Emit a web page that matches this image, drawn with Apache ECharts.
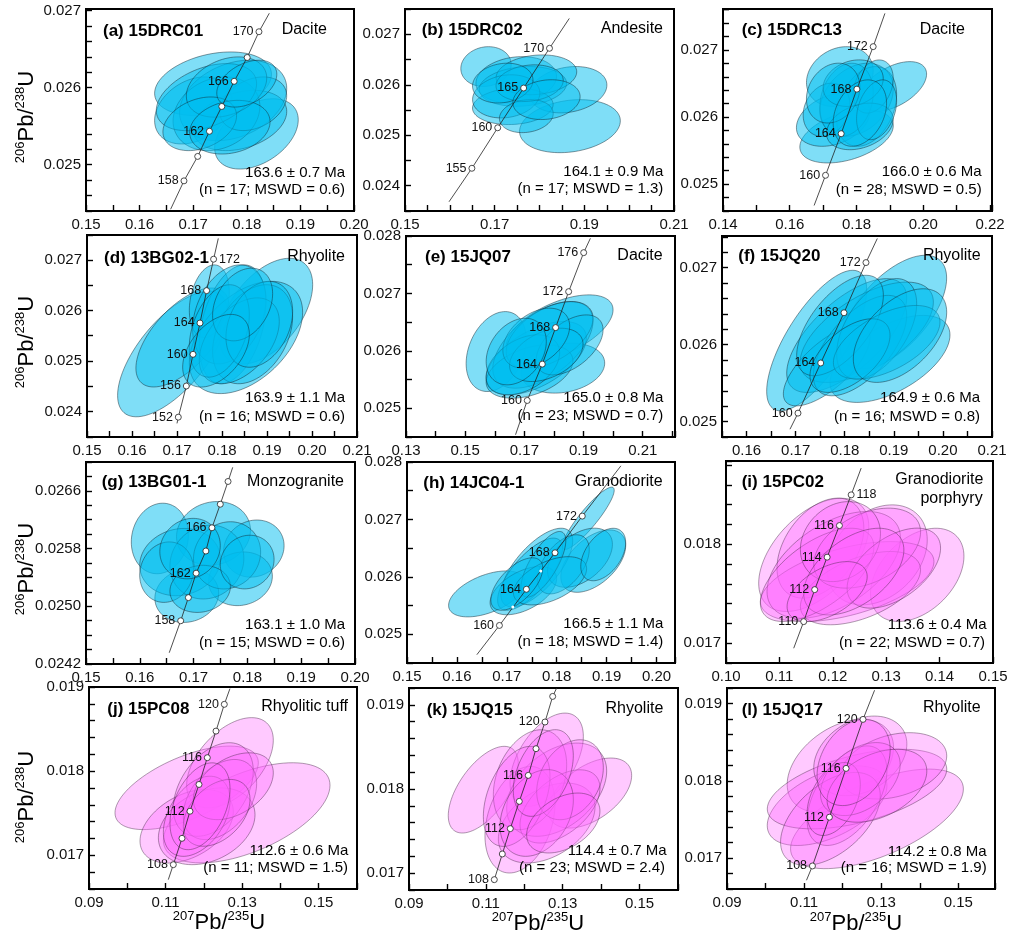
<!DOCTYPE html>
<html>
<head>
<meta charset="utf-8">
<title>U-Pb concordia diagrams</title>
<script src="https://cdn.jsdelivr.net/npm/echarts@6.0.0/dist/echarts.min.js"></script>
<style>
  html, body { margin: 0; padding: 0; background: #fff; }
  #chart { width: 1012px; height: 934px; }
</style>
</head>
<body>
<div id="chart"></div>
<script>
// axis: [min, max, tick step, first label, label step, decimals]
const xAxA = [0.15, 0.20, 0.005, 0.15, 0.01, 2];
const yAxA = [0.0244, 0.02702, 0.0002, 0.024, 0.001, 3];
const xAxB = [0.15, 0.21, 0.005, 0.15, 0.02, 2];
const yAxB = [0.0235, 0.0275, 0.0005, 0.024, 0.001, 3];
const xAxC = [0.14, 0.2206, 0.01, 0.14, 0.02, 2];
const yAxC = [0.0246, 0.02761, 0.0002, 0.024, 0.001, 3];
const xAxD = [0.15, 0.21, 0.005, 0.15, 0.01, 2];
const yAxD = [0.0235, 0.02749, 0.0005, 0.024, 0.001, 3];
const xAxE = [0.13, 0.2209, 0.01, 0.13, 0.02, 2];
const yAxE = [0.0245, 0.028, 0.0005, 0.024, 0.001, 3];
const xAxF = [0.155, 0.21, 0.005, 0.16, 0.01, 2];
const yAxF = [0.0248, 0.02741, 0.0002, 0.024, 0.001, 3];
const xAxG = [0.15, 0.20, 0.005, 0.15, 0.01, 2];
const yAxG = [0.0242, 0.027, 0.0002, 0.0242, 0.0008, 4];
const xAxH = [0.15, 0.2037, 0.005, 0.15, 0.01, 2];
const yAxH = [0.0245, 0.028, 0.0005, 0.024, 0.001, 3];
const xAxI = [0.10, 0.15, 0.01, 0.10, 0.01, 2];
const yAxI = [0.0168, 0.01884, 0.0002, 0.017, 0.001, 3];
const xAxJ = [0.09, 0.16, 0.01, 0.09, 0.02, 2];
const yAxJ = [0.0166, 0.019, 0.0002, 0.017, 0.001, 3];
const xAxK = [0.09, 0.16, 0.01, 0.09, 0.02, 2];
const yAxK = [0.0168, 0.0192, 0.0002, 0.017, 0.001, 3];
const xAxL = [0.09, 0.1595, 0.01, 0.09, 0.02, 2];
const yAxL = [0.0166, 0.0192, 0.0002, 0.017, 0.001, 3];

// concordia age marks: [207Pb/235U, 206Pb/238U, label]
const markA = [[0.16828, 0.024791, '158'], [0.17084, 0.025108, ''], [0.17303, 0.025434, '162'], [0.17534, 0.025756, ''], [0.17764, 0.026082, '166'], [0.18007, 0.026391, ''], [0.18227, 0.026725, '170']];
const markB = [[0.16492, 0.024346, '155'], [0.17068, 0.025148, '160'], [0.17646, 0.025935, '165'], [0.18223, 0.026722, '170']];
const markC = [[0.17072, 0.025132, '160'], [0.1754, 0.025752, '164'], [0.18011, 0.026416, '168'], [0.185, 0.027049, '172']];
const markD = [[0.17029, 0.023892, '152'], [0.17207, 0.024507, '156'], [0.17356, 0.025133, '160'], [0.17511, 0.025751, '164'], [0.17658, 0.026391, '168'], [0.17813, 0.027012, '172']];
const markE = [[0.17097, 0.025136, '160'], [0.17605, 0.025769, '164'], [0.18056, 0.026405, '168'], [0.18496, 0.027031, '172'], [0.19004, 0.02771, '176']];
const markF = [[0.17048, 0.02511, '160'], [0.17511, 0.025761, '164'], [0.17985, 0.026413, '168'], [0.18433, 0.027065, '172']];
const markG = [[0.1676, 0.024799, '158'], [0.16903, 0.02512, ''], [0.17047, 0.025459, '162'], [0.17228, 0.025766, ''], [0.17341, 0.026088, '166'], [0.17496, 0.026415, ''], [0.1764, 0.02673, '']];
const markH = [[0.16852, 0.025154, '160'], [0.17392, 0.025784, '164'], [0.17966, 0.026419, '168'], [0.18512, 0.027058, '172']];
const dotsH = [[0.1712, 0.025475], [0.1768, 0.026103]];
const markI = [[0.11455, 0.017218, '110'], [0.11661, 0.017541, '112'], [0.11894, 0.017869, '114'], [0.12124, 0.018188, '116'], [0.12344, 0.018498, '118']];
const markJ = [[0.11202, 0.016889, '108'], [0.11429, 0.017202, ''], [0.11638, 0.017524, '112'], [0.11873, 0.017842, ''], [0.1209, 0.01816, '116'], [0.12317, 0.018476, ''], [0.12534, 0.018794, '120']];
const markK = [[0.1122, 0.016923, '108'], [0.11428, 0.017228, ''], [0.11636, 0.017529, '112'], [0.1187, 0.017853, ''], [0.12104, 0.018162, '116'], [0.12305, 0.018479, ''], [0.12539, 0.018796, '120'], [0.12739, 0.0191, '']];
const markL = [[0.11216, 0.016898, '108'], [0.11656, 0.017529, '112'], [0.12088, 0.01816, '116'], [0.12527, 0.018794, '120']];

// concordia curve ends (lower, upper)
const lineA = [[0.16579, 0.024423], [0.1842, 0.026965]];
const lineB = [[0.15982, 0.023683], [0.18664, 0.027313]];
const lineC = [[0.1673, 0.024682], [0.18852, 0.027545]];
const lineD = [[0.17, 0.023769], [0.17918, 0.027423]];
const lineE = [[0.16701, 0.024539], [0.19231, 0.02796]];
const lineF = [[0.16885, 0.024901], [0.18664, 0.027378]];
const lineG = [[0.16547, 0.024356], [0.17727, 0.026926]];
const lineH = [[0.164, 0.024645], [0.19286, 0.027933]];
const lineI = [[0.11268, 0.016949], [0.12531, 0.018768]];
const lineJ = [[0.11071, 0.016711], [0.12682, 0.018981]];
const lineK = [[0.11194, 0.016884], [0.12843, 0.0192]];
const lineL = [[0.11061, 0.016713], [0.12827, 0.019171]];

// error ellipses: [x, y, x half-width, y half-height, rho]
const ellA = [[0.1737, 0.02605, 0.0109, 0.000413, 0.3], [0.1818, 0.0254, 0.0078, 0.000456, 0.4], [0.17, 0.025704, 0.0072, 0.000435, 0.3], [0.17745, 0.025834, 0.01, 0.000522, 0.3], [0.17871, 0.025574, 0.00874, 0.000391, 0.3], [0.17434, 0.025661, 0.0081, 0.000478, 0.2], [0.1812, 0.025791, 0.00624, 0.000348, 0.3], [0.17247, 0.025877, 0.00936, 0.000435, 0.4], [0.17622, 0.026008, 0.0075, 0.000391, 0.3], [0.17122, 0.025531, 0.00687, 0.000348, 0.3], [0.17684, 0.025487, 0.0075, 0.000348, 0.2], [0.18, 0.026052, 0.0056, 0.000304, 0.4]];
const ellB = [[0.16807, 0.02636, 0.00562, 0.000394, 0.1], [0.18679, 0.02518, 0.01124, 0.000525, 0.2], [0.18641, 0.025902, 0.00862, 0.000459, 0.2], [0.17481, 0.026098, 0.00899, 0.000459, 0.15], [0.1763, 0.025967, 0.00974, 0.000394, 0.15], [0.17405, 0.025573, 0.00899, 0.000361, 0.1], [0.17931, 0.026197, 0.00899, 0.000394, 0.15], [0.17257, 0.02577, 0.0075, 0.000427, 0.15], [0.17706, 0.02538, 0.006, 0.000328, 0.15], [0.1778, 0.026033, 0.0075, 0.000361, 0.15], [0.1718, 0.026033, 0.00674, 0.000394, 0.15], [0.18156, 0.025705, 0.0075, 0.000394, 0.15]];
const ellC = [[0.17501, 0.026603, 0.01, 0.000446, 0.2], [0.191, 0.026455, 0.01, 0.000371, 0.5], [0.17702, 0.025712, 0.014, 0.000396, 0.4], [0.173, 0.02596, 0.011, 0.000396, 0.3], [0.18002, 0.026257, 0.011, 0.000545, 0.3], [0.18302, 0.026158, 0.009, 0.000594, 0.3], [0.17702, 0.026257, 0.008, 0.000545, 0.2], [0.185, 0.026455, 0.006, 0.000396, 0.3], [0.17102, 0.026108, 0.007, 0.000396, 0.2], [0.18101, 0.02586, 0.01, 0.000347, 0.3], [0.17901, 0.026505, 0.009, 0.000347, 0.2], [0.18602, 0.026108, 0.006, 0.000446, 0.3], [0.173, 0.026357, 0.008, 0.000446, 0.2], [0.18101, 0.026059, 0.008, 0.000495, 0.3]];
const ellD = [[0.16902, 0.025139, 0.01222, 0.00124, 0.66], [0.17124, 0.025466, 0.01037, 0.000978, 0.62], [0.18978, 0.025986, 0.01037, 0.001044, 0.5], [0.17718, 0.026182, 0.00444, 0.000718, 0.25], [0.18236, 0.025726, 0.00741, 0.001174, 0.35], [0.18533, 0.025466, 0.01259, 0.001109, 0.45], [0.18162, 0.025922, 0.00815, 0.000978, 0.3], [0.1868, 0.02553, 0.00889, 0.000978, 0.35], [0.18384, 0.0254, 0.00889, 0.000848, 0.45], [0.1794, 0.025595, 0.00667, 0.000913, 0.35], [0.18829, 0.025726, 0.00741, 0.000848, 0.3], [0.18458, 0.026117, 0.00667, 0.000718, 0.3], [0.17867, 0.025204, 0.00741, 0.000718, 0.45]];
const ellE = [[0.16048, 0.025988, 0.01016, 0.000696, 0.3], [0.18191, 0.026395, 0.01806, 0.00058, 0.55], [0.18303, 0.025699, 0.01411, 0.000435, 0.2], [0.17402, 0.025873, 0.01693, 0.000638, 0.55], [0.17626, 0.026104, 0.01693, 0.000754, 0.55], [0.17175, 0.02564, 0.01467, 0.000464, 0.4], [0.17853, 0.026278, 0.01467, 0.00058, 0.5], [0.16949, 0.025757, 0.01242, 0.000522, 0.4], [0.1853, 0.026104, 0.01129, 0.000522, 0.5], [0.17741, 0.02593, 0.01242, 0.000464, 0.4], [0.17402, 0.026221, 0.01129, 0.000522, 0.4], [0.16725, 0.025988, 0.01016, 0.00058, 0.3]];
const ellF = [[0.17429, 0.026052, 0.01019, 0.000913, 0.72], [0.1899, 0.026421, 0.01086, 0.000739, 0.6], [0.18922, 0.025814, 0.01222, 0.000565, 0.55], [0.1804, 0.026117, 0.01222, 0.000739, 0.66], [0.18448, 0.02616, 0.01358, 0.000652, 0.6], [0.17633, 0.025726, 0.00883, 0.000522, 0.7], [0.18311, 0.025987, 0.00951, 0.000652, 0.6], [0.18651, 0.026205, 0.00815, 0.000652, 0.5], [0.17904, 0.026248, 0.00883, 0.000652, 0.6], [0.18855, 0.02603, 0.01086, 0.000478, 0.55], [0.18107, 0.025857, 0.00815, 0.000478, 0.55], [0.19126, 0.026117, 0.00951, 0.000608, 0.5]];
const ellG = [[0.16373, 0.02594, 0.00531, 0.000489, 0.1], [0.1737, 0.02601, 0.00687, 0.000442, 0.1], [0.1812, 0.0258, 0.00562, 0.000396, 0.1], [0.17871, 0.025381, 0.00593, 0.000372, 0.1], [0.16873, 0.025148, 0.00593, 0.000372, 0.1], [0.16747, 0.025613, 0.00749, 0.000466, 0.1], [0.17247, 0.025613, 0.00687, 0.000512, 0.1], [0.16498, 0.025473, 0.005, 0.000419, 0.1], [0.17622, 0.025706, 0.00624, 0.000466, 0.1], [0.17122, 0.025241, 0.00562, 0.000326, 0.1], [0.16934, 0.0258, 0.00562, 0.000419, 0.1], [0.17996, 0.025613, 0.005, 0.000372, 0.1]];
const ellH = [[0.18632, 0.027019, 0.0052, 0.000543, 0.9], [0.166, 0.025703, 0.00767, 0.0004, 0.5], [0.18732, 0.026274, 0.0065, 0.000543, 0.5], [0.176, 0.026161, 0.0072, 0.000686, 0.68], [0.17466, 0.026046, 0.0065, 0.000629, 0.72], [0.17332, 0.02576, 0.00667, 0.00042, 0.5], [0.18466, 0.026333, 0.0065, 0.000515, 0.45], [0.18132, 0.026218, 0.0052, 0.000515, 0.5], [0.17732, 0.026218, 0.0045, 0.000572, 0.72], [0.17866, 0.025931, 0.00733, 0.00042, 0.5], [0.18932, 0.026389, 0.0045, 0.000457, 0.45], [0.172, 0.025875, 0.0052, 0.000457, 0.6]];
const ellI = [[0.11643, 0.017892, 0.01031, 0.000572, 0.5], [0.13581, 0.01769, 0.00875, 0.000471, 0.4], [0.12831, 0.017892, 0.00938, 0.000505, 0.3], [0.11768, 0.01796, 0.00813, 0.000505, 0.4], [0.12269, 0.017622, 0.01625, 0.000404, 0.5], [0.12018, 0.017791, 0.0125, 0.000539, 0.5], [0.12518, 0.017556, 0.01125, 0.00037, 0.5], [0.11706, 0.01769, 0.01063, 0.000471, 0.6], [0.12644, 0.01796, 0.01, 0.000404, 0.4], [0.12143, 0.018026, 0.0075, 0.000404, 0.2], [0.13143, 0.017758, 0.00875, 0.000404, 0.5], [0.12393, 0.017723, 0.00938, 0.000438, 0.5], [0.11894, 0.017521, 0.0075, 0.000303, 0.5]];
const ellJ = [[0.11551, 0.017802, 0.01872, 0.000496, 0.6], [0.13119, 0.017505, 0.02176, 0.000595, 0.55], [0.12682, 0.0181, 0.01132, 0.000536, 0.5], [0.11551, 0.017345, 0.01219, 0.000437, 0.4], [0.12074, 0.017345, 0.01262, 0.000456, 0.3], [0.12246, 0.017782, 0.01045, 0.000556, 0.4], [0.12421, 0.017663, 0.00958, 0.000476, 0.4], [0.11813, 0.017464, 0.00871, 0.000476, 0.4], [0.12769, 0.017821, 0.01045, 0.000397, 0.4], [0.12335, 0.017505, 0.00871, 0.000397, 0.4], [0.11899, 0.017583, 0.00784, 0.000516, 0.4]];
const ellK = [[0.10933, 0.017992, 0.00911, 0.000515, 0.6], [0.1371, 0.017952, 0.01084, 0.000416, 0.5], [0.12583, 0.018348, 0.00954, 0.000554, 0.5], [0.11888, 0.017635, 0.00911, 0.000633, 0.3], [0.12583, 0.017596, 0.01258, 0.000475, 0.4], [0.12843, 0.017992, 0.01301, 0.000554, 0.4], [0.12149, 0.01811, 0.00954, 0.000594, 0.3], [0.12929, 0.017793, 0.01041, 0.000435, 0.5], [0.11802, 0.017912, 0.00867, 0.000594, 0.4], [0.1319, 0.01811, 0.00867, 0.000475, 0.3], [0.12323, 0.017715, 0.00954, 0.000515, 0.3], [0.12495, 0.01819, 0.00781, 0.000515, 0.4], [0.13015, 0.017596, 0.00954, 0.000356, 0.4]];
const ellL = [[0.12889, 0.017507, 0.02241, 0.000644, 0.6], [0.1194, 0.018193, 0.01379, 0.000601, 0.4], [0.11596, 0.017678, 0.01552, 0.000515, 0.5], [0.12372, 0.017893, 0.02327, 0.000515, 0.5], [0.12457, 0.018322, 0.01207, 0.000515, 0.3], [0.13319, 0.018193, 0.01379, 0.000429, 0.3], [0.12113, 0.017807, 0.01034, 0.000644, 0.5], [0.11682, 0.017507, 0.01293, 0.000601, 0.5], [0.12457, 0.018022, 0.01034, 0.000472, 0.4], [0.11767, 0.017764, 0.0069, 0.000472, 0.4], [0.12889, 0.017936, 0.01293, 0.000472, 0.4], [0.12284, 0.018237, 0.00948, 0.000558, 0.3]];

const FONT = '"Liberation Sans", Arial, sans-serif';
const BLUE = { fill: 'rgba(0,190,240,0.5)', stroke: 'rgba(20,40,50,0.6)' };
const PINK = { fill: 'rgba(255,100,255,0.35)', stroke: 'rgba(70,40,70,0.55)' };

const panels = [
  { box: [86, 9, 268, 202], x: xAxA, y: yAxA, ell: ellA, mark: markA, line: lineA, col: BLUE,
    title: ['(a) 15DRC01', 103, 31.5], rock: [['Dacite', 327, 30]], age: [['163.6 ± 0.7 Ma', 345, 172.7], ['(n = 17; MSWD = 0.6)', 345, 190]], yName: [27, 117] },
  { box: [405, 9, 269, 202], x: xAxB, y: yAxB, ell: ellB, mark: markB, line: lineB, col: BLUE,
    title: ['(b) 15DRC02', 421.7, 30.3], rock: [['Andesite', 663, 29]], age: [['164.1 ± 0.9 Ma', 663.3, 171.7], ['(n = 17; MSWD = 1.3)', 663.3, 189]] },
  { box: [723, 9, 269, 202], x: xAxC, y: yAxC, ell: ellC, mark: markC, line: lineC, col: BLUE,
    title: ['(c) 15DRC13', 741.7, 30.7], rock: [['Dacite', 965, 29.7]], age: [['166.0 ± 0.6 Ma', 981.7, 172.3], ['(n = 28; MSWD = 0.5)', 981.7, 190]] },
  { box: [87, 235, 270, 202], x: xAxD, y: yAxD, ell: ellD, mark: markD, line: lineD, col: BLUE, rightLabel: '172',
    title: ['(d) 13BG02-1', 104, 258.3], rock: [['Rhyolite', 345, 256.7]], age: [['163.9 ± 1.1 Ma', 345, 397.7], ['(n = 16; MSWD = 0.6)', 345, 416.7]], yName: [27, 342] },
  { box: [406, 236, 269, 201], x: xAxE, y: yAxE, ell: ellE, mark: markE, line: lineE, col: BLUE,
    title: ['(e) 15JQ07', 425, 257.3], rock: [['Dacite', 662.7, 255.7]], age: [['165.0 ± 0.8 Ma', 663.3, 398.3], ['(n = 23; MSWD = 0.7)', 663.3, 415.7]] },
  { box: [722, 236, 270, 201], x: xAxF, y: yAxF, ell: ellF, mark: markF, line: lineF, col: BLUE,
    title: ['(f) 15JQ20', 738.3, 256.7], rock: [['Rhyolite', 980.7, 256]], age: [['164.9 ± 0.6 Ma', 980, 398.3], ['(n = 16; MSWD = 0.8)', 980, 416.7]] },
  { box: [86, 462, 269, 202], x: xAxG, y: yAxG, ell: ellG, mark: markG, line: lineG, col: BLUE,
    title: ['(g) 13BG01-1', 101.7, 482.3], rock: [['Monzogranite', 344, 481.7]], age: [['163.1 ± 1.0 Ma', 345, 625], ['(n = 15; MSWD = 0.6)', 345, 643.3]], yName: [27, 569] },
  { box: [407, 462, 268, 201], x: xAxH, y: yAxH, ell: ellH, mark: markH, line: lineH, col: BLUE, dots: dotsH,
    title: ['(h) 14JC04-1', 423.3, 483.3], rock: [['Granodiorite', 662.7, 481.7]], age: [['166.5 ± 1.1 Ma', 663.3, 624.3], ['(n = 18; MSWD = 1.4)', 663.3, 641.7]] },
  { box: [726, 461, 267, 202], x: xAxI, y: yAxI, ell: ellI, mark: markI, line: lineI, col: PINK, rightLabel: '118',
    title: ['(i) 15PC02', 741.7, 482.3], rock: [['Granodiorite', 983.3, 480], ['porphyry', 982.7, 498.3]], age: [['113.6 ± 0.4 Ma', 986.7, 625], ['(n = 22; MSWD = 0.7)', 985, 643.3]] },
  { box: [89, 687, 268, 202], x: xAxJ, y: yAxJ, ell: ellJ, mark: markJ, line: lineJ, col: PINK,
    title: ['(j) 15PC08', 107.3, 709.3], rock: [['Rhyolitic tuff', 348, 706.7]], age: [['112.6 ± 0.6 Ma', 348.3, 850.7], ['(n = 11; MSWD = 1.5)', 348, 868.3]], yName: [27, 797], xName: [219, 923] },
  { box: [409, 688, 269, 202], x: xAxK, y: yAxK, ell: ellK, mark: markK, line: lineK, col: PINK,
    title: ['(k) 15JQ15', 426.7, 710], rock: [['Rhyolite', 663.3, 708.3]], age: [['114.4 ± 0.7 Ma', 666.7, 850.7], ['(n = 23; MSWD = 2.4)', 665, 868.3]], xName: [538, 924] },
  { box: [727, 688, 268, 201], x: xAxL, y: yAxL, ell: ellL, mark: markL, line: lineL, col: PINK,
    title: ['(l) 15JQ17', 741.7, 710], rock: [['Rhyolite', 980.7, 707.7]], age: [['114.2 ± 0.8 Ma', 986.7, 851.7], ['(n = 16; MSWD = 1.9)', 986.7, 868.3]], xName: [856, 924] }
];

function tickLabel(ax) {
  return function (v) {
    const k = (v - ax[3]) / ax[4];
    return Math.abs(k - Math.round(k)) < 1e-4 && k > -1e-4 ? v.toFixed(ax[5]) : '';
  };
}

function ellipseRender(col) {
  return function (params, api) {
    const cx = api.value(0), cy = api.value(1), sx = api.value(2), sy = api.value(3), r = api.value(4);
    const q = Math.sqrt(1 - r * r);
    const pts = [];
    for (let k = 0; k < 90; k++) {
      const t = k / 90 * Math.PI * 2;
      pts.push(api.coord([cx + sx * Math.cos(t), cy + sy * (r * Math.cos(t) + q * Math.sin(t))]));
    }
    return {
      type: 'polygon',
      shape: { points: pts },
      style: { fill: col.fill, stroke: col.stroke, lineWidth: 0.8 }
    };
  };
}

function axis(ax, i, isY) {
  return {
    type: 'value', gridIndex: i, min: ax[0], max: ax[1], interval: ax[2],
    z: 5,   // keep ticks above the grid frame
    axisLine: { show: true, onZero: false, lineStyle: { color: '#000', width: 2 } },
    axisTick: { show: true, inside: true, length: 6, lineStyle: { color: '#000', width: 1.4 } },
    splitLine: { show: false },
    axisLabel: {
      show: true, formatter: tickLabel(ax), color: '#111', fontSize: 15, fontFamily: FONT,
      margin: isY ? 5 : 6, showMinLabel: true, showMaxLabel: true, hideOverlap: false
    }
  };
}

const grids = [], xAxes = [], yAxes = [], series = [], graphic = [];

function text(str, x, y, opt) {
  graphic.push({
    type: 'text', x: x, y: y, silent: true, z: 10,
    style: Object.assign({ text: str, fill: '#000', fontFamily: FONT, fontSize: 15, verticalAlign: 'middle', align: 'left' }, opt)
  });
}

const ratioRich = {
  s: { fontSize: 13, fontFamily: FONT, fill: '#000', verticalAlign: 'top', lineHeight: 14 },
  m: { fontSize: 22, fontFamily: FONT, fill: '#000', lineHeight: 26 }
};

panels.forEach(function (p, i) {
  grids.push({ left: p.box[0], top: p.box[1], width: p.box[2], height: p.box[3], show: true, borderColor: '#000', borderWidth: 2, backgroundColor: 'transparent' });
  xAxes.push(axis(p.x, i, false));
  yAxes.push(axis(p.y, i, true));

  series.push({
    type: 'custom', xAxisIndex: i, yAxisIndex: i, clip: true, silent: true, z: 2,
    renderItem: ellipseRender(p.col), data: p.ell
  });

  const path = [p.line[0]].concat(p.mark.map(function (m) { return [m[0], m[1]]; }), [p.line[1]]);
  series.push({
    type: 'line', xAxisIndex: i, yAxisIndex: i, data: path, showSymbol: false, clip: true, silent: true, z: 3,
    lineStyle: { color: '#222', width: 0.8 }
  });

  series.push({
    type: 'scatter', xAxisIndex: i, yAxisIndex: i, silent: true, z: 4, symbolSize: 6,
    itemStyle: { color: '#fff', borderColor: '#222', borderWidth: 0.8, opacity: 1 },
    data: p.mark.map(function (m) {
      return {
        value: [m[0], m[1]],
        label: { show: m[2] !== '', formatter: m[2], position: m[2] === p.rightLabel ? 'right' : 'left' }
      };
    }),
    label: { distance: 2, fontSize: 12.5, fontFamily: FONT, color: '#111' }
  });

  if (p.dots) {
    series.push({
      type: 'scatter', xAxisIndex: i, yAxisIndex: i, silent: true, z: 4, symbolSize: 3,
      itemStyle: { color: '#fff', opacity: 1 }, data: p.dots
    });
  }

  text(p.title[0], p.title[1], p.title[2], { fontSize: 17, fontWeight: 'bold' });
  p.rock.forEach(function (r) { text(r[0], r[1], r[2], { fontSize: 16, align: 'right' }); });
  p.age.forEach(function (a) { text(a[0], a[1], a[2], { fontSize: 15, align: 'right' }); });

  if (p.yName) {
    graphic.push({
      type: 'text', x: p.yName[0], y: p.yName[1], rotation: Math.PI / 2, silent: true, z: 10,
      style: { text: '{s|206}{m|Pb/}{s|238}{m|U}', rich: ratioRich, align: 'center', verticalAlign: 'middle' }
    });
  }
  if (p.xName) {
    graphic.push({
      type: 'text', x: p.xName[0], y: p.xName[1], silent: true, z: 10,
      style: { text: '{s|207}{m|Pb/}{s|235}{m|U}', rich: ratioRich, align: 'center', verticalAlign: 'middle' }
    });
  }
});

const chart = echarts.init(document.getElementById('chart'), null, { renderer: 'canvas' });
chart.setOption({
  animation: false,
  backgroundColor: '#fff',
  grid: grids,
  xAxis: xAxes,
  yAxis: yAxes,
  series: series,
  graphic: graphic
});
</script>
</body>
</html>
